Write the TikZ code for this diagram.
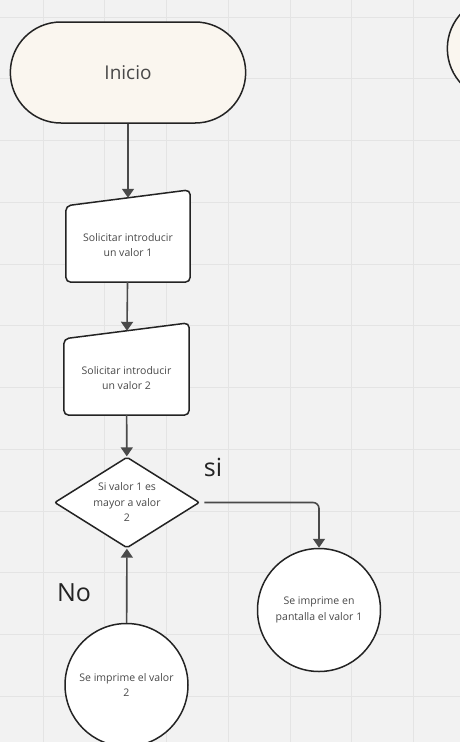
\documentclass[tikz,border=0pt]{standalone}
\usepackage{fontspec}
\setmainfont{Open Sans}
\usetikzlibrary{shapes, arrows.meta, calc, positioning, shapes.geometric, shapes.misc, backgrounds}

\definecolor{crema}{HTML}{FAF6EF}
\definecolor{fondo}{HTML}{F2F2F2}
\definecolor{rejilla}{HTML}{E4E4E4}
\definecolor{linea}{HTML}{232323}
\definecolor{flecha}{HTML}{4A4A4A}
\definecolor{texto}{HTML}{484848}

\tikzset{
  terminal/.style={rounded rectangle, draw=linea, line width=1.5pt, fill=crema,
    minimum width=242pt, minimum height=101pt, font=\fontsize{19}{23}\selectfont, text=texto},
  entrada/.style={rectangle, minimum width=124pt, minimum height=84pt, inner sep=0pt,
    align=center, font=\fontsize{10.5}{15}\selectfont, text=texto},
  decision/.style={diamond, draw=linea, line width=1.5pt, fill=white, aspect=1.6, inner sep=0pt,
    minimum width=145pt, minimum height=91pt, rounded corners=2pt,
    align=center, font=\fontsize{10.5}{15.5}\selectfont, text=texto},
  salida/.style={circle, draw=linea, line width=1.5pt, fill=white, minimum size=123pt, inner sep=0pt,
    align=center, font=\fontsize{10.5}{15.5}\selectfont, text=texto},
  flujo/.style={draw=flecha, line width=1.6pt, -{Triangle[length=9pt,width=12pt]}},
  etiqueta/.style={font=\fontsize{25}{30}\selectfont, text=linea}
}

\begin{document}
\begin{tikzpicture}[x=1pt, y=-1pt]
\useasboundingbox (0,0) rectangle (460,742);
\clip (0,0) rectangle (460,742);

% fondo y rejilla
\begin{scope}[on background layer]
\fill[fondo] (0,0) rectangle (460,742);
\foreach \i in {0,...,6} \draw[rejilla, line width=1pt] (43+61.75*\i,0) -- (43+61.75*\i,742);
\foreach \j in {0,...,11} \draw[rejilla, line width=1pt] (0,17+61.75*\j) -- (460,17+61.75*\j);
\end{scope}

% nodos
\node[terminal] (inicio) at (128, 72.5) {Inicio};
\node[terminal, minimum height=103pt] (fin) at (565, 48.5) {};
\node[entrada] (valor1) at (128, 240) {\rule{0pt}{8pt}\\[-5pt]Solicitar introducir\\un valor 1};
\node[entrada, minimum width=125pt] (valor2) at (126.5, 373) {\rule{0pt}{8pt}\\[-5pt]Solicitar introducir\\un valor 2};
\node[decision] (compara) at (127, 502.5) {Si valor 1 es\\mayor a valor\\2};
\node[salida] (imprime1) at (319, 610) {Se imprime en\\pantalla el valor 1};
\node[salida] (imprime2) at (126.5, 685) {Se imprime el valor\\2};

\node[etiqueta] (si) at (213, 467) {si};
\node[etiqueta] (no) at (74, 593) {No};

% entradas manuales
\begin{scope}[on background layer]
\foreach \n in {valor1, valor2}
  \draw[linea, line width=1.5pt, fill=white, rounded corners=5pt]
    (\n.south west) -- ([yshift=-8pt]\n.north west) -- ([yshift=8pt]\n.north east)
    -- (\n.south east) -- cycle;
\end{scope}

% flechas
\draw[flujo] (inicio) -- (valor1);
\draw[flujo] (valor1) -- (valor2);
\draw[flujo] (valor2) -- (compara);
\draw[flujo, rounded corners=6pt, shorten <=4pt] (compara.east) -| (imprime1.north);
\draw[flujo] (imprime2) -- (compara);
\end{tikzpicture}
\end{document}
